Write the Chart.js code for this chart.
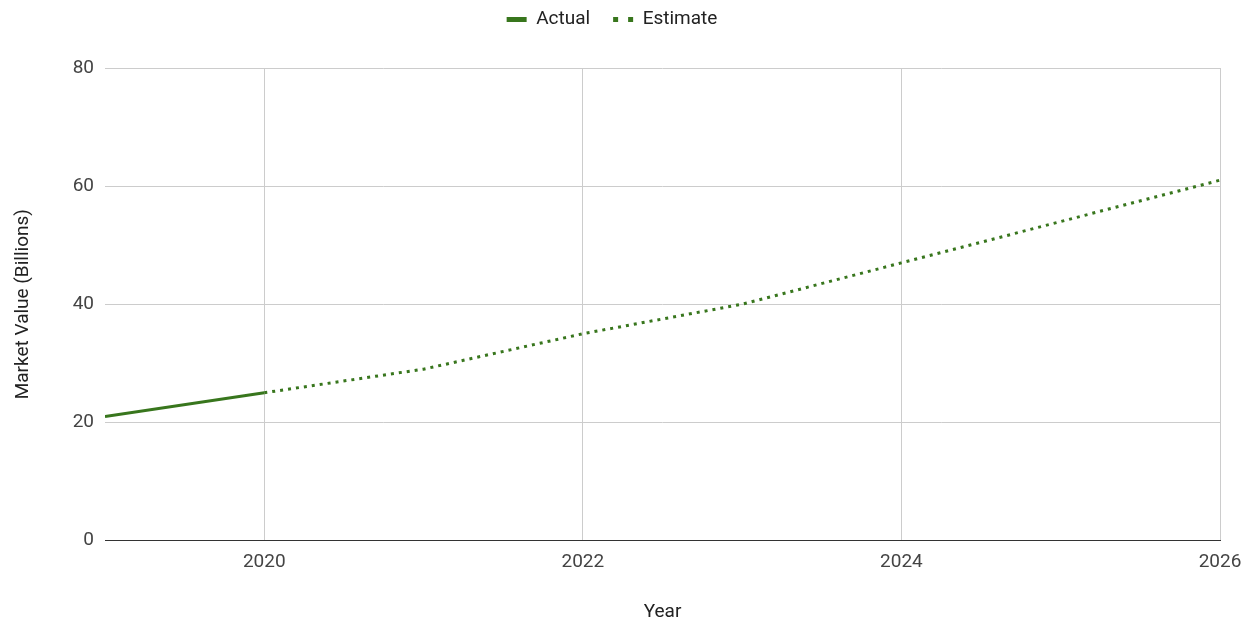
<!DOCTYPE html>
<html>
<head>
<meta charset="utf-8">
<title>Market Value</title>
<script src="https://cdn.jsdelivr.net/npm/chart.js@4.4.1/dist/chart.umd.min.js"></script>
<style>
  html, body { margin: 0; padding: 0; background: #ffffff; }
  #wrap { width: 1256px; height: 621px; position: relative; }
</style>
</head>
<body>
<div id="wrap"><canvas id="chart" width="1256" height="621"></canvas></div>
<script>
// Yearly market value in billions
const actualYears = [2019, 2020];
const actualValues = [21, 25];
const estimateYears = [2020, 2021, 2022, 2023, 2024, 2025, 2026];
const estimateValues = [25, 29, 35, 40, 47, 54, 61];
const xTickValues = [2020, 2022, 2024, 2026];
const seriesNames = ['Actual', 'Estimate'];

const GREEN = '#38761d';
const FONT = 'Roboto, "Liberation Sans", Arial, sans-serif';
const FONT_SIZE = 19;

const toPoints = (xs, ys) => xs.map((x, i) => ({ x: x, y: ys[i] }));

// Reserve extra room under the legend so the plot starts lower.
const legendBlock = {
  id: 'legendBlock',
  afterInit(chart) {
    const legend = chart.legend;
    if (!legend) return;
    const baseFit = legend.fit;
    legend.fit = function () {
      baseFit.call(this);
      this.height = 81;
    };
  }
};

new Chart(document.getElementById('chart'), {
  type: 'line',
  plugins: [legendBlock],
  data: {
    datasets: [
      {
        label: seriesNames[0],
        data: toPoints(actualYears, actualValues),
        borderColor: GREEN,
        backgroundColor: GREEN,
        borderWidth: 3,
        pointRadius: 0,
        tension: 0
      },
      {
        label: seriesNames[1],
        data: toPoints(estimateYears, estimateValues),
        borderColor: GREEN,
        backgroundColor: GREEN,
        borderWidth: 3,
        borderDash: [3, 5],
        pointRadius: 0,
        tension: 0
      }
    ]
  },
  options: {
    responsive: false,
    animation: false,
    layout: { padding: { left: 4, right: 36, top: -13, bottom: 0 } },
    plugins: {
      tooltip: { enabled: false },
      legend: {
        position: 'top',
        labels: {
          font: { family: FONT, size: FONT_SIZE },
          color: '#222222',
          usePointStyle: true,
          pointStyleWidth: 20,
          padding: 23,
          generateLabels: (chart) => chart.data.datasets.map((ds, i) => ({
            text: ds.label,
            datasetIndex: i,
            pointStyle: 'line',
            strokeStyle: GREEN,
            fillStyle: GREEN,
            fontColor: '#222222',
            lineWidth: 5,
            lineDash: i === 1 ? [5, 10] : [],
            lineCap: 'butt'
          }))
        }
      }
    },
    scales: {
      x: {
        type: 'linear',
        min: 2019,
        max: 2026,
        afterBuildTicks: (scale) => { scale.ticks = xTickValues.map(v => ({ value: v })); },
        ticks: {
          color: '#444444',
          font: { family: FONT, size: FONT_SIZE },
          padding: 10,
          maxRotation: 0,
          callback: (v) => String(v)
        },
        grid: { color: '#cccccc', drawTicks: false },
        border: { display: true, color: '#333333', width: 1 },
        title: {
          display: true,
          text: 'Year',
          color: '#222222',
          font: { family: FONT, size: FONT_SIZE },
          padding: { top: 18, bottom: -3 }
        }
      },
      y: {
        min: 0,
        max: 80,
        afterFit: (scale) => { scale.width = 101; },
        ticks: {
          stepSize: 20,
          color: '#444444',
          font: { family: FONT, size: FONT_SIZE },
          padding: 11
        },
        grid: { color: '#cccccc', drawTicks: false },
        border: { display: false },
        title: {
          display: true,
          text: 'Market Value (Billions)',
          color: '#222222',
          font: { family: FONT, size: FONT_SIZE },
          padding: { top: 8, bottom: 0 }
        }
      }
    }
  }
});
</script>
</body>
</html>
